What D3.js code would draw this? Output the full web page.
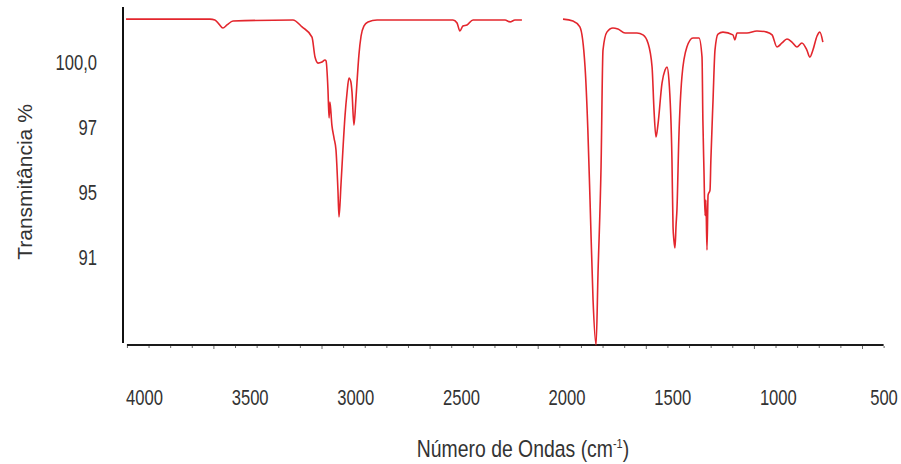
<!DOCTYPE html>
<html>
<head>
<meta charset="utf-8">
<script src="https://cdn.jsdelivr.net/npm/d3@7"></script>
<style>
  body { margin: 0; background: #fff; }
  svg { display: block; }
</style>
</head>
<body>
<div id="chart"></div>
<script>
// spectrum: [wavenumber cm-1, transmittance %]
// the trace has a break between ~2070 and ~1885, so it is kept as two pieces
const spectrumHigh = [
  [3904, 101.98], [3516, 101.98], [3493, 101.94], [3474, 101.75], [3456, 101.57],
  [3437, 101.71], [3409, 101.89], [3132, 101.94], [3090, 101.62], [3044, 101.15],
  [3030, 100.23], [3016, 99.95], [2998, 100.0], [2984, 100.09], [2979, 100.05],
  [2970, 98.71], [2965, 97.42], [2961, 98.15], [2952, 97.09], [2942, 96.49],
  [2933, 95.94], [2924, 94.09], [2919, 92.85], [2910, 94.32], [2901, 95.94],
  [2891, 97.55], [2882, 98.57], [2873, 99.26], [2864, 99.08], [2859, 98.62],
  [2850, 97.09], [2841, 98.25], [2836, 99.03], [2827, 100.32], [2817, 101.2],
  [2804, 101.66], [2785, 101.85], [2743, 101.94], [2392, 101.94], [2373, 101.8],
  [2360, 101.43], [2346, 101.66], [2327, 101.71], [2299, 101.94], [2151, 101.94],
  [2128, 101.85], [2105, 101.94], [2073, 101.94]
];

const spectrumLow = [
  [1883, 101.98], [1837, 101.89], [1805, 101.62], [1781, 99.77], [1768, 96.86],
  [1758, 93.63], [1744, 89.02], [1730, 86.94], [1721, 90.26], [1707, 95.15],
  [1698, 100.55], [1680, 101.38], [1652, 101.57], [1629, 101.52], [1596, 101.34],
  [1541, 101.34], [1513, 101.25], [1490, 100.88], [1471, 99.77], [1462, 97.78],
  [1453, 96.54], [1444, 97.09], [1425, 99.03], [1411, 99.63], [1402, 99.77],
  [1393, 99.17], [1379, 95.48], [1374, 92.38], [1370, 91.78], [1365, 91.42],
  [1360, 92.48], [1356, 93.17], [1347, 96.54], [1333, 99.31], [1310, 100.69],
  [1282, 101.11], [1254, 101.11], [1240, 100.23], [1236, 97.32], [1231, 95.02],
  [1226, 92.91], [1222, 93.63], [1217, 91.32], [1212, 93.86], [1203, 94.09],
  [1199, 95.48], [1189, 98.25], [1180, 100.55], [1166, 101.29], [1143, 101.38],
  [1097, 101.25], [1088, 101.02], [1078, 101.34], [1032, 101.34], [986, 101.43],
  [940, 101.38], [916, 101.25], [893, 100.69], [870, 100.88], [847, 101.06],
  [824, 100.92], [801, 100.69], [778, 100.88], [755, 100.55], [741, 100.23],
  [727, 100.55], [708, 101.2], [695, 101.38], [681, 100.92]
];

const xMajorTicks = [3500, 3000, 2500, 2000, 1500, 1000, 500];
const xMinorTicks = d3.range(3900, 399, -100).filter((d) => d % 500 !== 0);
const xTickLabels = [4000, 3500, 3000, 2500, 2000, 1500, 1000, 500];
const yTickLabels = ["100,0", "97", "95", "91"];

const config = {
  width: 901,
  height: 464,
  plotTop: 7,
  plotBottom: 343,
  yAxisX: 123,
  xAxisY: 345,
  font: "'Liberation Sans', Arial, sans-serif",
  textColor: "#333",
  lineColor: "#e3262d",
};

const svg = d3
  .select("#chart")
  .append("svg")
  .attr("width", config.width)
  .attr("height", config.height);

// tick marks and the trace share this scale; the printed labels sit on their own
const xScale = d3.scaleLinear().domain([4000, 500]).range([105.3, 862]);
const xLabelScale = d3.scaleLinear().domain([4000, 500]).range([144.5, 884]);

const yScale = d3.scaleLinear().domain([91, 100]).range([257, 62]);
const yLabelScale = d3.scalePoint().domain(yTickLabels).range([62, 257]);

// x axis: line, minor + major ticks
svg
  .append("line")
  .attr("x1", xScale(3900))
  .attr("x2", xScale(400))
  .attr("y1", config.xAxisY)
  .attr("y2", config.xAxisY)
  .attr("stroke", "#1a1a1a")
  .attr("stroke-width", 2);

const minorAxis = svg
  .append("g")
  .attr("transform", `translate(0, ${config.xAxisY + 1})`)
  .call(d3.axisBottom(xScale).tickValues(xMinorTicks).tickSize(2).tickFormat(""));

const majorAxis = svg
  .append("g")
  .attr("transform", `translate(0, ${config.xAxisY + 1})`)
  .call(d3.axisBottom(xScale).tickValues(xMajorTicks).tickSize(3).tickFormat(""));

svg.selectAll(".domain").remove();
svg.selectAll(".tick line").attr("stroke", "#666").attr("stroke-width", 1);

// x tick labels (slightly tall glyphs as in the source)
svg
  .selectAll(".x-label")
  .data(xTickLabels)
  .join("text")
  .attr("class", "x-label")
  .attr("transform", (d) => `translate(${xLabelScale(d)}, 405) scale(1, 1.35)`)
  .attr("text-anchor", "middle")
  .style("font-family", config.font)
  .style("font-size", "16.6px")
  .style("fill", config.textColor)
  .text((d) => d);

// y axis line
svg
  .append("line")
  .attr("x1", config.yAxisX)
  .attr("x2", config.yAxisX)
  .attr("y1", config.plotTop)
  .attr("y2", config.plotBottom)
  .attr("stroke", "#111")
  .attr("stroke-width", 2);

svg
  .selectAll(".y-label")
  .data(yTickLabels)
  .join("text")
  .attr("class", "y-label")
  .attr("transform", (d) => `translate(97, ${yLabelScale(d) + 8}) scale(1, 1.38)`)
  .attr("text-anchor", "end")
  .style("font-family", config.font)
  .style("font-size", "16.6px")
  .style("fill", config.textColor)
  .text((d) => d);

// axis titles
svg
  .append("text")
  .attr("transform", "translate(32, 182) rotate(-90)")
  .attr("text-anchor", "middle")
  .style("font-family", config.font)
  .style("font-size", "21px")
  .style("fill", config.textColor)
  .text("Transmitância %");

const xTitle = svg
  .append("text")
  .attr("transform", "translate(523, 457) scale(1, 1.22)")
  .attr("text-anchor", "middle")
  .style("font-family", config.font)
  .style("font-size", "19.4px")
  .style("fill", config.textColor);

xTitle.append("tspan").text("Número de Ondas (cm");
xTitle.append("tspan").attr("dy", -7).style("font-size", "11px").text("-1");
xTitle.append("tspan").attr("dy", 7).text(")");

// spectrum trace
const line = d3
  .line()
  .x((d) => xScale(d[0]))
  .y((d) => yScale(d[1]))
  .curve(d3.curveMonotoneX);

svg
  .selectAll(".spectrum")
  .data([spectrumHigh, spectrumLow])
  .join("path")
  .attr("class", "spectrum")
  .attr("d", line)
  .attr("fill", "none")
  .attr("stroke", config.lineColor)
  .attr("stroke-width", 1.6)
  .attr("stroke-linejoin", "round");
</script>
</body>
</html>
